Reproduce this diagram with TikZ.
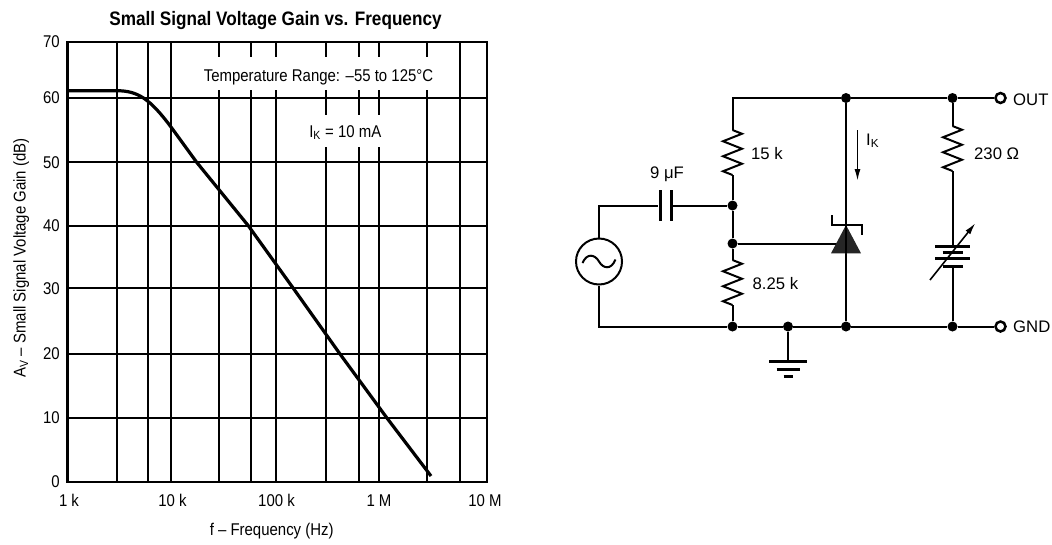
\documentclass[tikz,border=0pt]{standalone}
\usepackage{fontspec}
\setmainfont{Liberation Sans}
\newfontfamily\plotfont{Liberation Sans}[FakeStretch=0.88]
\usepackage{tikz}
\usetikzlibrary{arrows.meta,decorations.pathmorphing,positioning}

\begin{document}
\begin{tikzpicture}[x=1pt,y=-1pt,
  font=\fontsize{16.7}{20}\selectfont,
  grid/.style={line width=1.8pt},
  wire/.style={line width=2pt},
  res/.style={wire, decorate, decoration={zigzag, segment length=15pt, amplitude=9.5pt}},
  dot/.style={circle, fill, inner sep=0pt, minimum size=10pt},
  term/.style={circle, draw, fill=white, line width=2.5pt, inner sep=0pt, minimum size=10pt},
  capplate/.style={rectangle, fill, inner sep=0pt, minimum width=3pt, minimum height=31pt},
  plate/.style={line width=3pt},
  plotlabel/.style={font=\plotfont\fontsize{17}{20}\selectfont, inner sep=0pt},
  >={Latex[length=12pt,width=6pt]}]
\useasboundingbox (0,0) rectangle (1052,544);

% gain plot
\foreach \gx in {116.7,148,171,219.3,251,276,325.7,359,379,427,460}
  \draw[grid] (\gx,41.7) -- (\gx,481.7);
\foreach \gy in {98,162.3,225.7,288.3,354,417.7}
  \draw[grid] (67.3,\gy) -- (486.7,\gy);
\draw[line width=2.4pt] (67.3,41.7) rectangle (486.7,481.7);
\node[plotlabel, fill=white, inner xsep=5pt, text height=24pt, text depth=9pt, anchor=base] (trange) at (318.5,81) {Temperature Range: –55 to 125°C};
\node[plotlabel, fill=white, inner xsep=5pt, text height=22pt, text depth=9.5pt, anchor=base] (ikval) at (345.3,137.3) {I\textsubscript{K} = 10 mA};
\draw[line width=3.2pt] (67.3,90.7) -- (116.7,90.7) .. controls (138,90.7) and (150,99) .. (171,127)
  -- (196.7,162.3) -- (248.3,225.7) -- (293.3,288.3) -- (340,354) -- (386.7,417.7) -- (431,476);

\node[plotlabel, font=\plotfont\bfseries\fontsize{19.5}{22}\selectfont, anchor=base] (title) at (275.5,25) {Small Signal Voltage Gain vs. Frequency};
\foreach \gy/\lab in {41.7/70,98/60,162.3/50,225.7/40,288.3/30,354/20,417.7/10,481.7/0}
  \node[plotlabel, anchor=east] (yl\lab) at (60,\gy) {\lab};
\foreach \gx/\lab/\nm in {69/1 k/a,172.5/10 k/b,276.5/100 k/c,379/1 M/d,485/10 M/e}
  \node[plotlabel, anchor=base] (xl\nm) at (\gx,506.7) {\lab};
\node[plotlabel, anchor=base] (xlabel) at (271.7,535) {f – Frequency (Hz)};
\node[plotlabel, anchor=base, rotate=90] (ylabel) at (25.5,258) {A\textsubscript{V} – Small Signal Voltage Gain (dB)};

% test circuit
\coordinate (tl) at (732.5,98);
\node[dot] (t1) at (846,98) {};
\node[dot] (t2) at (952.5,98) {};
\node[term] (out) at (1000.5,98) {};
\node[anchor=base west, inner sep=0pt] (outl) at (1013,105) {OUT};
\node[dot] (jc) at (732.5,205.5) {};
\node[dot] (jg) at (732.5,243.5) {};
\node[dot] (b0) at (732.5,326.5) {};
\node[dot] (bg) at (788,326.5) {};
\node[dot] (b1) at (846,326.5) {};
\node[dot] (b2) at (952.5,326.5) {};
\node[term] (gnd) at (1000.5,326.5) {};
\node[anchor=base west, inner sep=0pt] (gndl) at (1013,332.7) {GND};

\coordinate (r1t) at (732.5,130);
\coordinate (r1b) at (732.5,175);
\coordinate (r2t) at (732.5,260);
\coordinate (r2b) at (732.5,305);
\coordinate (r3t) at (952.5,126);
\coordinate (r3b) at (952.5,171);
\draw[wire] (r1t) -- (tl) -- (t1) -- (t2) -- (out);
\draw[res] (r1t) -- (r1b);
\draw[wire] (r1b) -- (jc) -- (jg) -- (r2t);
\draw[res] (r2t) -- (r2b);
\draw[wire] (r2b) -- (b0);
\draw[wire] (t2) -- (r3t);
\draw[res] (r3t) -- (r3b);
\node[anchor=west, inner sep=0pt] (r1l) at (751,154) {15 k};
\node[anchor=west, inner sep=0pt] (r2l) at (752.5,283.3) {8.25 k};
\node[anchor=base west, inner sep=0pt] (r3l) at (974,159.5) {230 Ω};

% source and coupling capacitor
\node[circle, draw, line width=2pt, minimum size=46pt, inner sep=0pt] (ac) at (599,261.5) {};
\draw[wire] (582.5,263) .. controls (587,252.5) and (595,254.5) .. (599,261.5)
  .. controls (603,268.5) and (611,270.5) .. (615.5,259.5);
\coordinate (sl) at (599,205.5);
\coordinate (bl) at (599,326.5);
\node[capplate] (ca) at (660,205.5) {};
\node[capplate] (cb) at (671.5,205.5) {};
\draw[wire] (ac) -- (sl) -- (ca);
\draw[wire] (cb) -- (jc);
\node[anchor=base, inner sep=0pt] (cl) at (667,178.3) {9 μF};
\draw[wire] (gnd) -- (b2) -- (b1) -- (bg) -- (b0) -- (bl) -- (ac);

% shunt regulator
\coordinate (zg) at (840,243.5);
\draw[wire] (jg) -- (zg);
\draw[wire] (t1) -- (b1);
\fill[black!85] (846,225) -- (831,253.3) -- (861,253.3) -- cycle;
\draw[wire] (846,225) -- (846,253.3);
\draw[wire] (831.7,215) -- (831.7,225) -- (861.7,225) -- (861.7,235);
\coordinate (ika) at (857.5,130);
\coordinate (ikb) at (857.5,181);
\draw[line width=1.6pt, ->] (ika) -- (ikb);
\node[anchor=base west, inner sep=0pt] (ikl) at (866,145) {I\textsubscript{K}};

% variable supply
\coordinate (bt) at (952.5,246.5);
\coordinate (bb) at (952.5,266.5);
\draw[wire] (r3b) -- (bt);
\draw[wire] (bb) -- (b2);
\foreach \py/\hw in {246.5/17.5,252.5/10,258.5/17.5,266.5/10}
  \draw[plate] (952.5-\hw,\py) -- (952.5+\hw,\py);
\coordinate (va1) at (930,280);
\coordinate (va2) at (975.5,223);
\draw[line width=1.6pt, ->] (va1) -- (va2);

% ground
\coordinate (gt) at (788,361.5);
\draw[wire] (bg) -- (gt);
\draw[plate] (769,361.5) -- (807,361.5);
\draw[plate] (776.5,369) -- (799.5,369);
\draw[plate] (783.5,376.5) -- (792.5,376.5);
\end{tikzpicture}
\end{document}
